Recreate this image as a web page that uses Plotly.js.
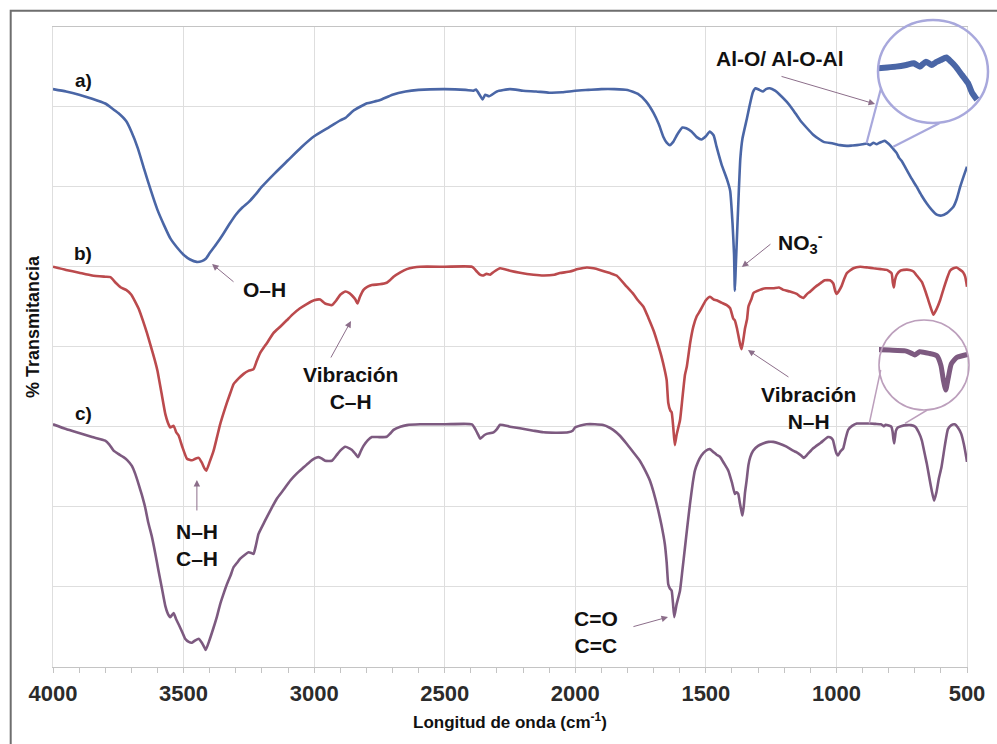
<!DOCTYPE html>
<html>
<head>
<meta charset="utf-8">
<script src="https://cdn.plot.ly/plotly-3.0.1.min.js"></script>
<style>html,body{margin:0;padding:0;background:#fff;}#chart{width:997px;height:744px;}</style>
</head>
<body>
<div id="chart"></div>
<script>
// ---- Data (wavenumber in cm-1, transmittance in arbitrary stacked units) ----
const wnA = [4000,3950,3900,3850,3800,3750,3720,3700,3675,3650,3625,3600,3575,3550,3525,3500,3475,3450,3430,3415,3400,3375,3350,3325,3300,3275,3250,3225,3200,3150,3100,3050,3000,2950,2900,2880,2870,2850,2800,2750,2700,2650,2600,2500,2420,2390,2380,2365,2355,2345,2330,2300,2250,2200,2150,2100,2050,2000,1950,1900,1850,1800,1760,1730,1700,1680,1663,1650,1638,1625,1610,1590,1575,1555,1535,1517,1500,1485,1470,1459,1440,1420,1407,1398,1392,1389,1386,1383,1375,1368,1360,1343,1332,1320,1310,1295,1281,1270,1255,1235,1217,1190,1166,1139,1115,1089,1064,1049,1013,986,960,940,922,900,884,871,865,858,846,838,827,815,805,795,782,769,760,750,731,712,693,674,654,635,616,597,577,552,539,526,513,500];
const tA = [72.2,71.9,71.5,71.0,70.4,69.2,68.2,66.9,64.8,62.1,59.5,57.1,55.2,53.5,52.4,51.5,50.9,50.6,50.7,51.0,51.7,52.8,54.0,55.3,56.5,57.4,58.1,59.0,60.0,61.7,63.3,64.9,66.3,67.3,68.3,68.6,68.9,69.5,70.4,70.8,71.5,71.9,72.1,72.2,72.1,72.0,72.15,71.4,70.9,71.5,71.3,71.9,72.2,72.0,71.9,71.75,71.8,72.0,72.1,72.2,72.2,72.1,71.6,70.7,69.2,67.8,66.25,65.5,65.2,65.6,66.5,67.4,67.3,66.9,66.2,65.9,66.3,66.9,66.4,65.0,62.8,61.0,59.5,55.5,51.5,47.0,49.5,52.0,58.5,63.5,66.0,68.5,70.2,71.8,72.3,72.1,71.9,72.2,72.3,72.0,71.5,70.6,69.6,68.3,67.4,66.5,65.9,65.6,65.4,65.2,65.1,65.15,65.2,65.3,65.4,65.2,65.35,65.5,65.3,65.45,65.6,65.75,65.5,65.2,64.7,64.2,63.6,63.2,62.1,61.0,60.0,58.9,57.9,57.1,56.5,56.4,56.7,57.5,58.5,60.0,61.3,62.5];

const wnB = [4000,3950,3900,3850,3800,3780,3760,3740,3720,3700,3685,3670,3655,3640,3625,3610,3600,3585,3570,3560,3551,3538,3528,3519,3505,3487,3468,3455,3442,3430,3420,3413,3400,3385,3372,3360,3347,3334,3320,3309,3290,3270,3250,3232,3220,3207,3180,3156,3130,3105,3080,3054,3030,3000,2977,2958,2932,2915,2900,2881,2865,2855,2842,2834,2825,2811,2795,2779,2750,2722,2710,2696,2670,2645,2620,2594,2500,2396,2385,2377,2365,2352,2340,2326,2310,2288,2250,2212,2160,2122,2080,2059,2020,1990,1956,1930,1906,1867,1842,1803,1778,1760,1739,1720,1700,1688,1670,1657,1650,1644,1636,1631,1625,1619,1612,1599,1590,1580,1573,1560,1548,1535,1522,1500,1484,1470,1459,1440,1420,1407,1395,1389,1381,1376,1368,1363,1356,1350,1342,1337,1325,1318,1293,1270,1242,1220,1203,1178,1152,1140,1126,1112,1100,1080,1063,1045,1025,1012,1005,999,990,980,970,960,935,909,880,858,830,807,789,784,780,776,769,755,743,720,705,690,673,660,648,638,629,618,603,590,577,565,552,540,526,515,507,500];
const tB = [50.0,49.6,49.25,48.9,48.75,48.7,48.0,47.4,47.1,46.5,45.6,44.6,43.2,41.7,40.0,38.3,37.0,34.3,31.6,30.5,29.9,30.1,29.3,28.9,27.5,26.0,25.8,26.0,26.1,25.5,24.8,24.5,25.6,27.0,28.7,30.3,31.7,33.0,34.3,35.3,36.0,36.6,37.0,37.2,38.2,39.2,40.5,41.7,42.5,43.3,44.1,44.8,45.3,45.8,45.9,45.4,45.2,45.8,46.5,46.9,46.7,46.4,45.9,45.4,46.2,47.1,47.5,47.7,47.8,48.0,48.3,48.75,49.3,49.7,49.9,50.0,50.0,50.0,49.7,49.4,49.0,48.9,49.1,49.0,49.4,49.8,49.5,49.25,49.0,48.9,49.0,49.2,49.4,49.7,49.9,49.8,49.6,49.2,48.9,47.5,46.6,45.8,45.0,43.6,42.0,40.8,38.8,37.0,35.8,33.0,32.0,31.8,30.0,27.7,29.0,30.8,33.5,36.5,37.5,40.5,42.5,43.8,44.5,45.8,46.25,45.9,45.8,45.5,45.2,44.8,43.5,43.3,42.3,41.5,40.2,39.7,41.0,42.3,43.5,45.0,46.0,46.7,47.1,47.3,47.3,47.4,47.1,46.9,46.6,46.3,46.1,46.6,46.9,47.5,47.9,48.3,48.3,47.9,47.0,46.6,47.0,47.6,48.5,49.2,49.8,50.0,49.9,49.8,49.7,49.6,49.2,48.0,47.4,48.3,49.0,49.5,49.6,49.6,49.4,48.8,48.1,47.0,45.8,44.8,44.0,44.6,45.8,47.2,48.5,49.5,49.8,49.9,49.6,49.3,48.75,47.5];

const wnC = [4000,3950,3900,3850,3800,3785,3768,3750,3730,3715,3698,3685,3672,3660,3647,3635,3621,3608,3596,3583,3570,3560,3551,3538,3528,3519,3505,3494,3480,3468,3455,3442,3430,3420,3415,3400,3385,3372,3360,3347,3334,3320,3309,3295,3283,3265,3251,3240,3232,3222,3213,3195,3181,3160,3143,3115,3092,3065,3041,3020,3000,2983,2970,2958,2932,2915,2900,2881,2865,2855,2842,2832,2822,2811,2795,2779,2750,2722,2710,2696,2670,2645,2594,2500,2396,2383,2372,2364,2350,2339,2313,2300,2288,2250,2212,2160,2122,2070,2027,2010,2001,1980,1957,1925,1893,1870,1855,1830,1804,1780,1753,1735,1714,1700,1682,1670,1657,1650,1644,1638,1631,1626,1621,1612,1599,1590,1580,1570,1561,1550,1542,1530,1517,1500,1485,1470,1459,1446,1430,1414,1400,1389,1383,1376,1370,1364,1360,1355,1350,1344,1337,1330,1319,1300,1281,1260,1242,1220,1191,1166,1152,1135,1125,1112,1089,1060,1032,1020,1013,1005,999,994,985,974,965,955,940,922,900,872,850,830,822,818,812,800,790,785,782,779,776,772,765,750,731,715,698,685,673,660,654,642,635,626,617,608,598,585,573,560,547,535,522,512,503,500];
const tC = [30.3,29.7,29.2,28.7,28.25,27.8,27.0,26.6,26.2,25.8,25.1,24.1,22.8,21.5,19.9,18.0,16.2,14.1,12.0,9.8,7.6,6.6,6.2,6.7,5.9,5.3,4.3,3.5,3.1,3.0,3.3,3.5,3.0,2.4,2.1,3.4,4.9,6.3,7.8,9.1,10.3,11.4,12.4,13.0,13.5,14.0,14.3,14.2,14.1,15.3,16.6,17.8,18.7,20.0,21.0,22.2,23.25,24.2,24.9,25.5,26.0,26.2,26.0,25.75,25.75,26.4,27.0,27.5,27.3,27.1,26.6,26.2,26.9,27.6,28.3,28.7,28.7,28.75,29.1,29.6,30.0,30.2,30.3,30.3,30.3,29.7,29.0,28.5,28.9,29.1,29.3,29.7,30.25,30.0,29.8,29.5,29.3,29.25,29.3,29.5,29.9,30.15,30.3,30.3,30.2,29.9,29.6,28.9,27.9,26.9,25.75,24.7,23.25,21.8,19.5,17.7,15.3,13.0,10.3,9.8,9.5,8.0,6.2,7.8,9.5,12.0,14.9,17.8,20.3,23.0,24.5,25.6,26.4,27.0,27.2,26.8,26.5,26.25,25.4,24.5,23.0,21.6,21.8,21.6,20.5,19.5,18.9,20.0,21.8,23.25,25.2,26.2,27.0,27.6,27.9,28.1,28.1,27.9,27.5,27.0,26.8,26.4,26.1,26.5,27.3,28.0,28.7,28.6,28.3,27.2,26.6,26.4,26.9,27.3,28.5,29.6,30.1,30.4,30.4,30.4,30.35,30.3,30.15,30.05,30.25,30.15,30.0,29.4,28.5,27.9,28.6,29.5,29.9,30.1,30.2,30.2,30.0,29.3,28.3,26.3,25.4,23.2,22.0,20.75,21.8,23.5,24.9,27.6,29.7,30.2,30.3,29.9,29.1,27.8,26.2,25.6];

const xTickVals = [4000,3500,3000,2500,2000,1500,1000,500];
const seriesNames = ['a)','b)','c)'];

// ---- Geometry helpers (figure pixel -> paper fraction) ----
const W = 997, H = 744;
const px = v => v / W;
const py = v => 1 - v / H;

const FONT = 'Liberation Sans, Arial, Helvetica, sans-serif';
const colA = '#4a66a6', colB = '#bb4a4d', colC = '#7d5a80';

function subset(xs, ys, lo, hi) {
  const ox = [], oy = [];
  xs.forEach((w, i) => { if (w >= lo && w <= hi) { ox.push(w); oy.push(ys[i]); } });
  return {x: ox, y: oy};
}
const inA = subset(wnA, tA, 745, 965);
const inC = subset(wnC, tC, 740, 880);

const mainLine = (c) => ({color: c, width: 2.6, shape: 'spline', smoothing: 0.45});

const traces = [
  {x: wnA, y: tA, name: seriesNames[0], type: 'scatter', mode: 'lines', line: mainLine(colA), xaxis: 'x', yaxis: 'y'},
  {x: wnB, y: tB, name: seriesNames[1], type: 'scatter', mode: 'lines', line: mainLine(colB), xaxis: 'x', yaxis: 'y'},
  {x: wnC, y: tC, name: seriesNames[2], type: 'scatter', mode: 'lines', line: mainLine(colC), xaxis: 'x', yaxis: 'y'},
  {x: inA.x, y: inA.y, type: 'scatter', mode: 'lines', line: {color: colA, width: 6, shape: 'spline', smoothing: 0.5}, xaxis: 'x2', yaxis: 'y2', hoverinfo: 'skip'},
  {x: inC.x, y: inC.y, type: 'scatter', mode: 'lines', line: {color: colC, width: 5, shape: 'spline', smoothing: 0.5}, xaxis: 'x3', yaxis: 'y3', hoverinfo: 'skip'}
];

const arrowCol = '#8c6e8a';
function arrow(xh, yh, xt, yt) {
  return {x: xh, y: yh, ax: xt, ay: yt, xref: 'x', yref: 'y', axref: 'x', ayref: 'y',
          text: '', showarrow: true, arrowhead: 2, arrowsize: 1.3, arrowwidth: 1, arrowcolor: arrowCol, standoff: 0};
}
function label(x, y, txt, size) {
  return {x: x, y: y, xref: 'x', yref: 'y', text: '<b>' + txt + '</b>', showarrow: false,
          font: {family: FONT, size: size || 21, color: '#111'}, align: 'center', xanchor: 'center', yanchor: 'middle'};
}

const annotations = [
  label(3885, 73.3, seriesNames[0], 19),
  label(3885, 51.7, seriesNames[1], 19),
  label(3885, 31.7, seriesNames[2], 19),
  label(3192, 47.2, 'O–H'),
  label(2859, 34.8, 'Vibración<br>C–H'),
  label(3449, 15.25, 'N–H<br>C–H'),
  label(1921, 4.4, 'C=O<br>C=C'),
  label(1139, 53.0, 'NO<sub>3</sub><sup>-</sup>'),
  label(1107, 32.4, 'Vibración<br>N–H'),
  label(1218, 76.05, 'Al-O/ Al-O-Al'),
  arrow(3391, 50.34, 3303, 47.96),
  arrow(2859, 43.21, 2939, 38.46),
  arrow(3449, 23.34, 3449, 19.34),
  arrow(1645, 6.21, 1783, 4.96),
  arrow(1362, 49.96, 1247, 52.96),
  arrow(1339, 39.59, 1178, 36.09),
  arrow(852, 70.34, 1216, 73.84),
  {x: px(510), y: py(721), xref: 'paper', yref: 'paper', showarrow: false,
   text: '<b>Longitud de onda (cm<sup>-1</sup>)</b>', font: {family: FONT, size: 17, color: '#111'}, xanchor: 'center', yanchor: 'middle'},
  {x: px(33), y: py(327), xref: 'paper', yref: 'paper', showarrow: false, textangle: -90,
   text: '<b>% Transmitancia</b>', font: {family: FONT, size: 18, color: '#111'}, xanchor: 'center', yanchor: 'middle'}
];

const shapes = [
  // outer frame (cut off at right and bottom like the reference)
  {type: 'rect', xref: 'paper', yref: 'paper', x0: px(10.7), x1: 1.2, y0: -0.2, y1: py(10.7), line: {color: '#6e6e6e', width: 2}, fillcolor: 'rgba(0,0,0,0)'},
  // top magnifier
  {type: 'circle', xref: 'paper', yref: 'paper', x0: px(878), x1: px(988), y0: py(123), y1: py(20), line: {color: '#a8a8dc', width: 2.5}},
  {type: 'line', xref: 'paper', yref: 'paper', x0: px(866.5), y0: py(143.3), x1: px(881), y1: py(88.3), line: {color: '#a8a8dc', width: 2.2}},
  {type: 'line', xref: 'paper', yref: 'paper', x0: px(893.3), y0: py(146.7), x1: px(939.3), y1: py(123.3), line: {color: '#a8a8dc', width: 2.2}},
  // bottom magnifier
  {type: 'circle', xref: 'paper', yref: 'paper', x0: px(879), x1: px(969), y0: py(410), y1: py(320), line: {color: '#bc9fbc', width: 1.6}},
  {type: 'line', xref: 'paper', yref: 'paper', x0: px(869.3), y0: py(423.3), x1: px(880.7), y1: py(370), line: {color: '#bc9fbc', width: 1.5}},
  {type: 'line', xref: 'paper', yref: 'paper', x0: px(905), y0: py(423.3), x1: px(927.3), y1: py(410), line: {color: '#bc9fbc', width: 1.5}}
];

const layout = {
  width: W, height: H,
  margin: {l: 0, r: 0, t: 0, b: 0, pad: 0},
  paper_bgcolor: '#ffffff', plot_bgcolor: 'rgba(0,0,0,0)',
  font: {family: FONT, color: '#333'},
  showlegend: false,
  xaxis: {
    domain: [px(53), px(967)], range: [4000, 500], anchor: 'y',
    tickmode: 'array', tickvals: xTickVals,
    showgrid: true, gridcolor: '#dedede', gridwidth: 1,
    showline: true, linecolor: '#c4c4c4', linewidth: 1, mirror: true,
    ticks: 'outside', ticklen: 5, tickcolor: '#c4c4c4', tickwidth: 1,
    minor: {dtick: 100, tick0: 0, ticks: 'outside', ticklen: 5, tickcolor: '#c4c4c4', tickwidth: 1, showgrid: false},
    tickfont: {family: FONT, size: 22, color: '#2b2b2b', weight: 'bold'},
    ticklabelstandoff: 2,
    zeroline: false
  },
  yaxis: {
    domain: [py(666.7), py(26.7)], range: [0, 80], anchor: 'x',
    dtick: 10, tick0: 0, showticklabels: false, ticks: '',
    showgrid: true, gridcolor: '#dedede', gridwidth: 1,
    showline: true, linecolor: '#dedede', linewidth: 1, mirror: true,
    zeroline: false
  },
  xaxis2: {domain: [px(878), px(988)], range: [960, 726.5], anchor: 'y2', visible: false, fixedrange: true},
  yaxis2: {domain: [py(123), py(20)], range: [61.78, 68.03], anchor: 'x2', visible: false, fixedrange: true},
  xaxis3: {domain: [px(879), px(968)], range: [863, 751], anchor: 'y3', visible: false, fixedrange: true},
  yaxis3: {domain: [py(410), py(320)], range: [26.67, 32.2], anchor: 'x3', visible: false, fixedrange: true},
  annotations: annotations,
  shapes: shapes
};

Plotly.newPlot('chart', traces, layout, {displayModeBar: false, staticPlot: true});
</script>
</body>
</html>
